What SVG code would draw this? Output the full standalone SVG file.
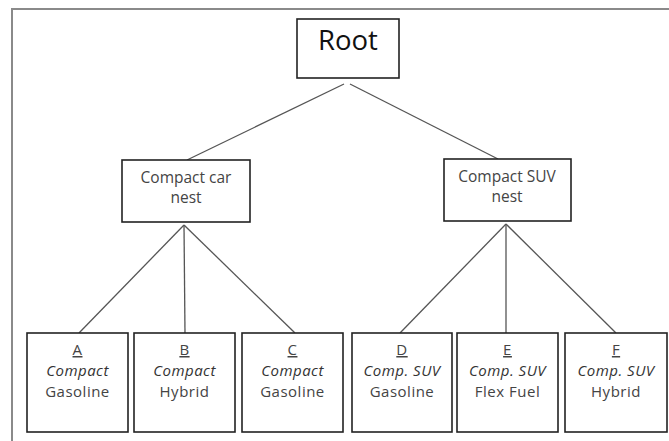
<svg xmlns="http://www.w3.org/2000/svg" width="669" height="441" viewBox="0 0 669 441">
<style>
.box{fill:#fff;stroke:#222;stroke-width:1.6}
.frame{stroke:#8a8a8a;stroke-width:2;fill:none}
.con{stroke:#555;stroke-width:1.3;fill:none}
text{font-family:"Open Sans","Liberation Sans",sans-serif;text-anchor:middle;fill:#444}
.root{font-size:27.5px;fill:#111}
.nest{font-size:15.5px}
.leaf{font-size:15px;letter-spacing:0.5px}
.it{font-style:italic;fill:#333}
.ul{text-decoration:underline}
</style>
<rect width="669" height="441" fill="#fff"/>
<g id="frame">
<line class="frame" x1="11" y1="9" x2="669" y2="9"/>
<line class="frame" x1="12" y1="9" x2="12" y2="441"/>
</g>
<g id="connectors">
<line class="con" x1="344" y1="84" x2="187" y2="160"/>
<line class="con" x1="350" y1="84" x2="498" y2="159"/>
<line class="con" x1="184" y1="225" x2="79" y2="333"/>
<line class="con" x1="184" y1="225" x2="185" y2="333"/>
<line class="con" x1="184" y1="225" x2="295" y2="333"/>
<line class="con" x1="506" y1="224" x2="400" y2="333"/>
<line class="con" x1="506" y1="224" x2="506" y2="333"/>
<line class="con" x1="506" y1="224" x2="616" y2="333"/>
</g>
<g id="root">
<rect class="box" x="297" y="19" width="102" height="59"/>
<text class="root" x="348" y="50">Root</text>
</g>
<g id="nest-car">
<rect class="box" x="122" y="160" width="128" height="62"/>
<text class="nest" x="186" y="183">Compact car</text>
<text class="nest" x="186" y="203">nest</text>
</g>
<g id="nest-suv">
<rect class="box" x="444" y="159" width="127" height="62"/>
<text class="nest" x="507" y="182">Compact SUV</text>
<text class="nest" x="507" y="202">nest</text>
</g>
<g id="leaf-a">
<rect class="box" x="27" y="333" width="101" height="99"/>
<text class="leaf ul" x="77.5" y="355">A</text>
<text class="leaf it" x="77.5" y="376">Compact</text>
<text class="leaf" x="77.5" y="397">Gasoline</text>
</g>
<g id="leaf-b">
<rect class="box" x="134" y="333" width="101" height="99"/>
<text class="leaf ul" x="184.5" y="355">B</text>
<text class="leaf it" x="184.5" y="376">Compact</text>
<text class="leaf" x="184.5" y="397">Hybrid</text>
</g>
<g id="leaf-c">
<rect class="box" x="242" y="333" width="101" height="99"/>
<text class="leaf ul" x="292.5" y="355">C</text>
<text class="leaf it" x="292.5" y="376">Compact</text>
<text class="leaf" x="292.5" y="397">Gasoline</text>
</g>
<g id="leaf-d">
<rect class="box" x="352" y="333" width="100" height="99"/>
<text class="leaf ul" x="402" y="355">D</text>
<text class="leaf it" x="402" y="376">Comp. SUV</text>
<text class="leaf" x="402" y="397">Gasoline</text>
</g>
<g id="leaf-e">
<rect class="box" x="457" y="333" width="101" height="99"/>
<text class="leaf ul" x="507.5" y="355">E</text>
<text class="leaf it" x="507.5" y="376">Comp. SUV</text>
<text class="leaf" x="507.5" y="397">Flex Fuel</text>
</g>
<g id="leaf-f">
<rect class="box" x="565" y="333" width="102" height="99"/>
<text class="leaf ul" x="616" y="355">F</text>
<text class="leaf it" x="616" y="376">Comp. SUV</text>
<text class="leaf" x="616" y="397">Hybrid</text>
</g>
</svg>
